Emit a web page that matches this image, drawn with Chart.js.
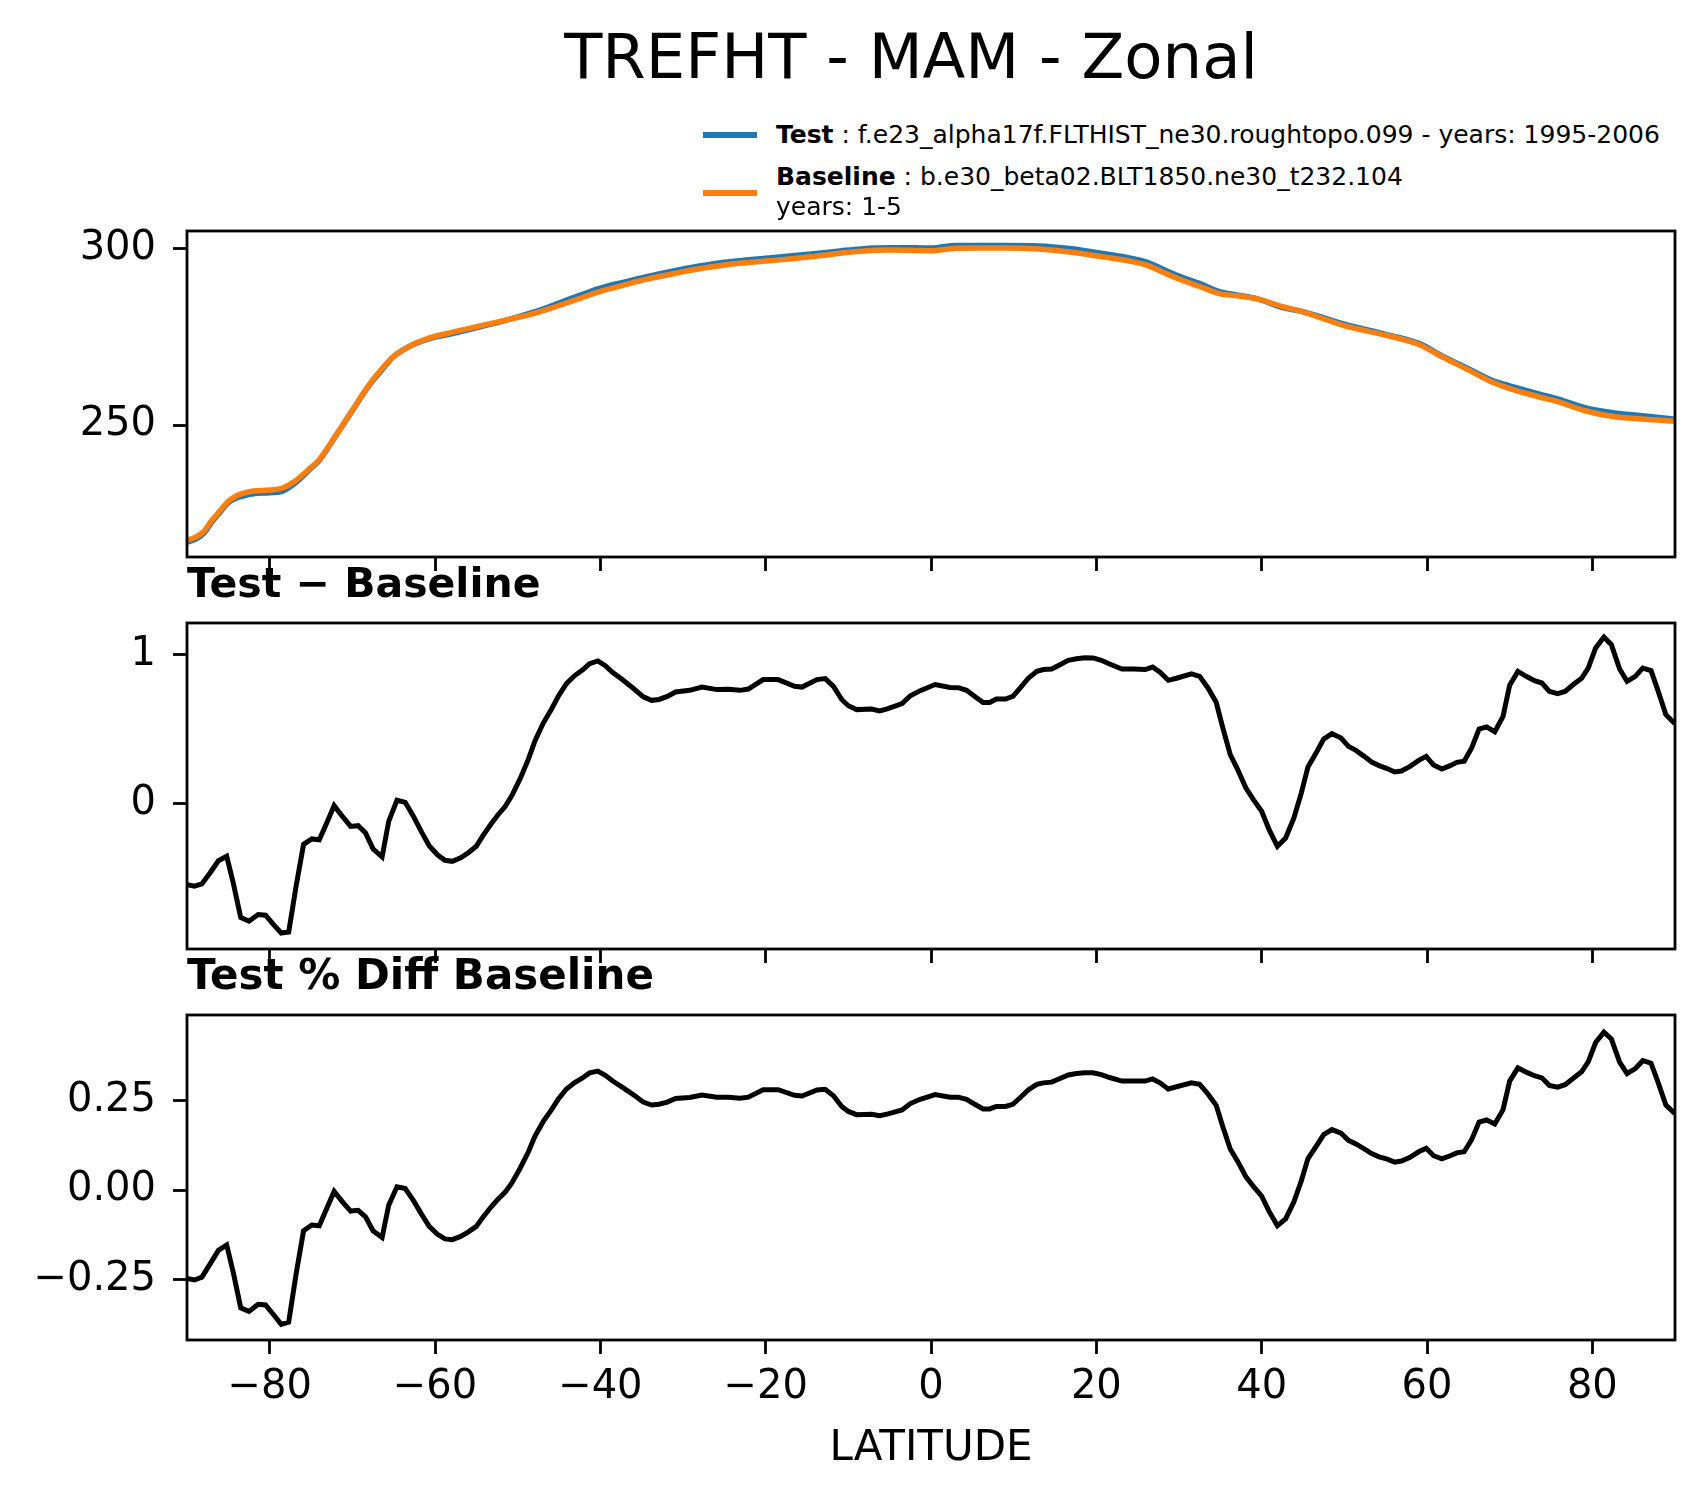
<!DOCTYPE html>
<html><head><meta charset="utf-8">
<script src="https://cdn.jsdelivr.net/npm/chart.js@4.4.0/dist/chart.umd.min.js"></script>
<style>
html,body{margin:0;padding:0;background:#fff;}
#page{position:relative;width:1704px;height:1496px;overflow:hidden;background:#fff;font-family:'DejaVu Sans',sans-serif;color:#000;}
canvas{position:absolute;left:0;}
.t{position:absolute;white-space:nowrap;line-height:1;}
.h{position:absolute;left:703px;width:54px;height:6px;}
</style></head><body>
<div id="page">
 <canvas id="c1" width="1704" height="400" style="top:200px"></canvas>
 <canvas id="c2" width="1704" height="400" style="top:600px"></canvas>
 <canvas id="c3" width="1704" height="506" style="top:990px"></canvas>
 <div class="t" style="font-size:62.5px;left:911px;top:26px;transform:translateX(-50%);">TREFHT - MAM - Zonal</div>
 <div class="h" style="top:132px;background:#1f77b4"></div>
 <div class="h" style="top:190px;background:#ff7f0e"></div>
 <div class="t" style="font-size:25px;left:776px;top:122px;"><b>Test</b> : f.e23_alpha17f.FLTHIST_ne30.roughtopo.099 - years: 1995-2006</div>
 <div class="t" style="font-size:25px;left:776px;top:164px;"><b>Baseline</b> : b.e30_beta02.BLT1850.ne30_t232.104</div>
 <div class="t" style="font-size:25px;left:776px;top:194px;">years: 1-5</div>
 <div class="t" style="font-size:41px;font-weight:bold;left:187px;top:563px;">Test − Baseline</div>
 <div class="t" style="font-size:42px;font-weight:bold;left:187px;top:954px;">Test % Diff Baseline</div>
</div>
<script>
// ---- data ----
const xTicks = [-80, -60, -40, -20, 0, 20, 40, 60, 80];
const topTicks = [250, 300];
const diffTicks = [0, 1];
const pctTicks = [-0.25, 0, 0.25];

const topLat = [-90,-89,-88,-87,-86,-85,-84,-83,-82,-80,-78.5,-77,-75,-74,-72,-70,-68,-66.5,-65,-63,-61,-58,-55,-51,-48,-46,-43,-40,-37,-34.5,-31,-28,-25,-22,-18,-14.5,-11,-8.5,-5,-2,0,3,6,9,13,17,21,24,26,28,30,32.5,35,37,39.5,42.5,45,50,55,59,62,65,68,70,73.5,76,79,82.5,86,90];
const baseVals = [217.4,218.2,219.8,223.0,225.7,228.4,230.0,230.8,231.3,231.6,232.1,234.0,238.0,240.2,247.0,254.2,261.3,265.7,269.4,272.4,274.4,276.2,277.8,279.9,281.6,283.0,285.4,287.8,289.7,291.2,292.9,294.2,295.3,296.0,296.8,297.6,298.6,299.2,299.5,299.4,299.3,300.0,300.1,300.1,299.8,298.9,297.5,296.4,295.3,293.3,291.3,289.2,287.1,286.6,285.7,283.5,282.0,278.1,275.4,272.8,269.1,265.6,262.0,260.3,258.0,256.5,254.1,252.4,251.7,251.1];
const testVals = [216.86,217.65,219.27,222.55,225.33,228.04,229.38,230.03,230.53,230.83,231.24,233.40,237.76,239.96,246.98,254.05,261.08,265.35,269.37,272.37,274.16,275.82,277.52,279.90,281.99,283.63,286.26,288.75,290.52,291.91,293.65,294.98,296.07,296.77,297.63,298.40,299.26,299.83,300.14,300.14,300.09,300.78,300.79,300.80,300.69,299.87,298.45,297.30,296.20,294.15,292.15,290.06,287.68,286.83,285.69,283.25,282.10,278.51,275.64,273.09,269.35,265.93,262.49,261.10,258.82,257.25,254.98,253.45,252.61,251.63];

const diffLat = [-90,-89.1,-88.2,-87.2,-86.2,-85.2,-84.4,-83.5,-82.5,-81.4,
 -80.5,-79.5,-78.6,-77.7,-76.8,-75.9,-74.9,-74.0,-73.1,-72.2,
 -71.1,-70.2,-69.3,-68.4,-67.5,-66.4,-65.6,-64.6,-63.6,-62.6,
 -61.6,-60.7,-59.7,-58.8,-57.9,-56.9,-56.0,-55.0,-54.2,-53.2,
 -52.3,-51.5,-50.7,-49.7,-48.7,-47.9,-46.9,-45.9,-45.1,-44.1,
 -43.1,-42.2,-41.3,-40.3,-39.4,-38.5,-37.5,-36.6,-35.7,-34.8,
 -33.8,-32.9,-31.9,-30.9,-29.2,-27.7,-25.9,-24.5,-23.1,-22.1,
 -20.3,-18.5,-16.5,-15.6,-13.8,-12.8,-11.8,-10.8,-10.0,-9.0,
 -7.2,-6.2,-5.2,-3.5,-2.5,-1.3,0.5,2.3,3.3,4.3,
 5.3,6.3,7.1,7.9,9.0,9.9,10.8,11.8,12.8,13.6,
 14.6,15.6,16.6,17.6,18.6,19.6,20.6,21.6,23.1,24.5,
 25.9,26.8,27.7,28.7,29.7,31.5,32.5,33.5,34.5,35.3,
 36.2,37.1,38.1,39.0,40.0,40.9,41.9,42.9,43.9,44.8,
 45.6,46.7,47.5,48.5,49.6,50.5,51.4,52.4,53.3,54.2,
 55.1,56.1,56.9,57.9,59.0,59.9,60.8,61.8,62.8,63.6,
 64.5,65.4,66.3,67.2,68.2,69.2,70.0,71.0,72.0,73.0,
 73.9,74.8,75.8,76.7,77.7,78.7,79.5,80.4,81.4,82.3,
 83.3,84.2,85.2,86.1,87.1,87.9,88.9,90.0];
const diffVals = [-0.54,-0.55,-0.535,-0.46,-0.38,-0.35,-0.53,-0.76,-0.785,-0.74,
 -0.745,-0.81,-0.864,-0.857,-0.55,-0.27,-0.234,-0.24,-0.127,-0.011,
 -0.09,-0.15,-0.145,-0.194,-0.30,-0.355,-0.116,0.025,0.011,-0.083,
 -0.19,-0.28,-0.34,-0.377,-0.384,-0.36,-0.328,-0.283,-0.212,-0.132,
 -0.067,-0.016,0.056,0.17,0.30,0.424,0.542,0.636,0.72,0.806,
 0.86,0.895,0.94,0.958,0.926,0.88,0.84,0.80,0.76,0.717,
 0.694,0.70,0.72,0.75,0.761,0.783,0.766,0.768,0.761,0.77,
 0.833,0.833,0.788,0.783,0.833,0.84,0.788,0.70,0.658,0.632,
 0.636,0.623,0.638,0.672,0.725,0.759,0.80,0.78,0.779,0.761,
 0.72,0.68,0.68,0.703,0.703,0.72,0.777,0.844,0.888,0.90,
 0.904,0.933,0.962,0.973,0.98,0.978,0.962,0.937,0.904,0.904,
 0.90,0.917,0.882,0.828,0.842,0.871,0.855,0.777,0.681,0.509,
 0.33,0.23,0.107,0.029,-0.049,-0.172,-0.283,-0.228,-0.094,0.074,
 0.248,0.353,0.435,0.471,0.442,0.386,0.359,0.319,0.281,0.257,
 0.239,0.214,0.221,0.25,0.292,0.319,0.261,0.234,0.257,0.279,
 0.286,0.375,0.502,0.516,0.484,0.587,0.795,0.888,0.855,0.826,
 0.81,0.754,0.739,0.754,0.80,0.842,0.91,1.045,1.118,1.067,
 0.904,0.821,0.855,0.91,0.893,0.766,0.598,0.538];
const pctVals = [-0.248,-0.252,-0.244,-0.207,-0.169,-0.154,-0.231,-0.330,-0.340,-0.320,
 -0.322,-0.350,-0.376,-0.370,-0.235,-0.114,-0.098,-0.100,-0.052,-0.004,
 -0.036,-0.059,-0.057,-0.075,-0.114,-0.133,-0.043,0.009,0.004,-0.030,
 -0.069,-0.102,-0.124,-0.137,-0.139,-0.130,-0.118,-0.102,-0.076,-0.047,
 -0.024,-0.006,0.020,0.061,0.107,0.151,0.192,0.225,0.254,0.283,
 0.301,0.313,0.328,0.333,0.321,0.305,0.290,0.276,0.262,0.246,
 0.238,0.240,0.246,0.256,0.259,0.266,0.260,0.260,0.257,0.260,
 0.281,0.281,0.265,0.263,0.280,0.282,0.264,0.234,0.220,0.211,
 0.212,0.208,0.213,0.224,0.242,0.254,0.267,0.260,0.260,0.254,
 0.240,0.227,0.227,0.234,0.234,0.240,0.259,0.281,0.296,0.300,
 0.302,0.312,0.322,0.326,0.328,0.328,0.323,0.315,0.305,0.305,
 0.305,0.311,0.300,0.283,0.289,0.300,0.296,0.269,0.237,0.177,
 0.115,0.080,0.037,0.010,-0.017,-0.060,-0.100,-0.081,-0.033,0.026,
 0.088,0.126,0.155,0.169,0.159,0.139,0.129,0.115,0.102,0.093,
 0.087,0.078,0.081,0.091,0.107,0.117,0.096,0.087,0.096,0.104,
 0.107,0.141,0.190,0.196,0.185,0.225,0.305,0.342,0.330,0.320,
 0.314,0.293,0.288,0.295,0.313,0.331,0.359,0.413,0.442,0.423,
 0.358,0.326,0.340,0.362,0.355,0.305,0.238,0.214];

// ---- chart ----
Chart.defaults.font.family = "'DejaVu Sans', sans-serif";
Chart.defaults.color = '#000';
const MINUS = '\u2212';
const fmtInt = v => (v < 0 ? MINUS + Math.abs(v) : String(v));
const fmt2 = v => (v < 0 ? MINUS + Math.abs(v).toFixed(2) : v.toFixed(2));
const pts = (xs, ys) => xs.map((x, i) => ({x: x, y: ys[i]}));

const framePlugin = {
  id: 'frame',
  afterDatasetsDraw(chart) {
    const {ctx, chartArea: a} = chart;
    ctx.save();
    ctx.strokeStyle = '#000';
    ctx.lineWidth = 2.8;
    ctx.strokeRect(a.left, a.top, a.right - a.left, a.bottom - a.top);
    ctx.restore();
  }
};

const gridOpts = {display: true, drawOnChartArea: false, drawTicks: true, tickLength: 14, tickWidth: 2.8, tickColor: '#000', color: '#000'};
const noPad = s => { s.paddingTop = 0; s.paddingBottom = 0; s.paddingLeft = 0; s.paddingRight = 0; };

function makeChart(id, datasets, yMin, yMax, yTicks, yFmt, padTop, xHeight, showX) {
  return new Chart(document.getElementById(id), {
    type: 'line',
    data: {datasets: datasets},
    options: {
      responsive: false, animation: false, devicePixelRatio: 1,
      layout: {padding: {left: 0, right: 29, top: padTop, bottom: 0}},
      plugins: {legend: {display: false}, tooltip: {enabled: false}, title: {display: false}},
      elements: {point: {radius: 0}, line: {fill: false}},
      scales: {
        x: {
          type: 'linear', min: -90, max: 90,
          afterBuildTicks: s => { s.ticks = xTicks.map(v => ({value: v})); },
          afterFit: s => { s.height = xHeight; noPad(s); },
          grid: gridOpts, border: {display: false},
          ticks: {display: showX, padding: 10, color: '#000', font: {size: 40}, maxRotation: 0, autoSkip: false, callback: v => fmtInt(v)},
          title: {display: showX, text: 'LATITUDE', color: '#000', font: {size: 42}, padding: {top: 0, bottom: 22}}
        },
        y: {
          type: 'linear', min: yMin, max: yMax,
          afterBuildTicks: s => { s.ticks = yTicks.map(v => ({value: v})); },
          afterFit: s => { s.width = 187; noPad(s); },
          grid: gridOpts, border: {display: false},
          ticks: {padding: 17, color: '#000', font: {size: 40}, autoSkip: false, callback: v => yFmt(v)}
        }
      }
    },
    plugins: [framePlugin]
  });
}

makeChart('c1', [
  {label: 'Baseline', data: pts(topLat, baseVals), borderColor: '#ff7f0e', borderWidth: 5.5, cubicInterpolationMode: 'monotone', clip: 0},
  {label: 'Test', data: pts(topLat, testVals), borderColor: '#1f77b4', borderWidth: 5.5, cubicInterpolationMode: 'monotone', clip: 0}
], 212.65, 304.9, topTicks, fmtInt, 31, 43, false);

makeChart('c2', [
  {label: 'Test - Baseline', data: pts(diffLat, diffVals), borderColor: '#000', borderWidth: 5, tension: 0, clip: 0}
], -0.971, 1.212, diffTicks, fmtInt, 23, 51, false);

makeChart('c3', [
  {label: 'Test % Diff Baseline', data: pts(diffLat, pctVals), borderColor: '#000', borderWidth: 5, tension: 0, clip: 0}
], -0.42, 0.49, pctTicks, fmt2, 25, 156, true);
</script>
</body></html>
